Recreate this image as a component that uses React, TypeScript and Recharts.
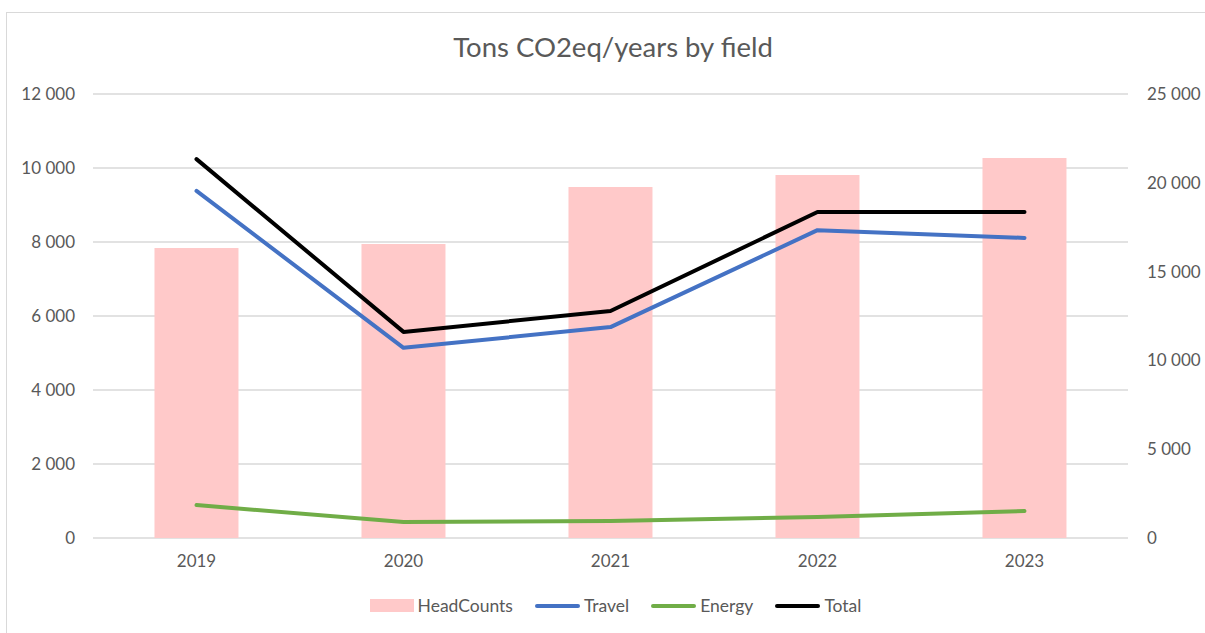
import React from 'react';
import { ComposedChart, Bar, Line, XAxis, YAxis, CartesianGrid, Legend } from 'recharts';

const years = ['2019', '2020', '2021', '2022', '2023'];
const headCounts = [16330, 16550, 19760, 20440, 21400];
const travel = [9380, 5140, 5700, 8320, 8110];
const energy = [890, 430, 460, 570, 730];
const total = [10240, 5570, 6135, 8810, 8810];
const leftTicks = [0, 2000, 4000, 6000, 8000, 10000, 12000];
const rightTicks = [0, 5000, 10000, 15000, 20000, 25000];
const legendOrder = ['HeadCounts', 'Travel', 'Energy', 'Total'];
const title = 'Tons CO2eq/years by field';

const data = years.map((y, i) => ({
  year: y,
  HeadCounts: headCounts[i],
  Travel: travel[i],
  Energy: energy[i],
  Total: total[i],
}));

const FONT = 'Lato, "Open Sans", sans-serif';
const TEXT = '#595959';

const fmt = (v: number) => {
  const s = String(v);
  return s.replace(/\B(?=(\d{3})+(?!\d))/g, ' ');
};

const renderLegend = (props: any) => {
  const payload = [...(props.payload || [])].sort(
    (a: any, b: any) => legendOrder.indexOf(a.value) - legendOrder.indexOf(b.value)
  );
  return (
    <div style={{ display: 'flex', justifyContent: 'center', alignItems: 'center', fontFamily: FONT, fontSize: 17.5, color: TEXT, paddingLeft: 26 }}>
      {payload.map((p: any, i: number) => (
        <div key={i} style={{ display: 'flex', alignItems: 'center', marginRight: i < payload.length - 1 ? 22 : 0 }}>
          {p.type === 'rect' ? (
            <div style={{ width: 44, height: 13, background: p.color, marginRight: 4 }} />
          ) : (
            <div style={{ width: 45, height: 4, borderRadius: 2, background: p.color, marginRight: 4 }} />
          )}
          <span>{p.value}</span>
        </div>
      ))}
    </div>
  );
};

export default function App() {
  return (
    <div style={{ position: 'absolute', left: 0, top: 0, width: 1205, height: 633, overflow: 'hidden', background: '#fff' }}>
      <div style={{ position: 'absolute', left: 6, top: 12, width: 1240, height: 680, border: '1px solid #d9d9d9' }} />
      <div style={{ position: 'absolute', left: 0, top: 30, width: 1226, textAlign: 'center', fontFamily: FONT, fontSize: 27.5, color: TEXT }}>
        {title}
      </div>
      <div style={{ position: 'absolute', left: 0, top: 0 }}>
        <ComposedChart width={1205} height={633} data={data} margin={{ top: 94, right: 0, bottom: 55, left: 0 }} barCategoryGap="29.7%">
          <CartesianGrid yAxisId="left" vertical={false} stroke="#d9d9d9" strokeWidth={1.3} />
          <XAxis dataKey="year" axisLine={false} tickLine={false} tickSize={0} tickMargin={17} height={40}
            tick={{ fill: TEXT, fontSize: 17, fontFamily: FONT }} />
          <YAxis yAxisId="left" orientation="left" width={93} domain={[0, 12000]} ticks={leftTicks} interval={0}
            axisLine={false} tickLine={false} tickSize={0} tickMargin={18} tickFormatter={fmt}
            tick={{ fill: TEXT, fontSize: 17, fontFamily: FONT }} />
          <YAxis yAxisId="right" orientation="right" width={77} domain={[0, 25000]} ticks={rightTicks} interval={0}
            axisLine={false} tickLine={false} tickSize={0} tickMargin={19} tickFormatter={fmt}
            tick={{ fill: TEXT, fontSize: 17, fontFamily: FONT, textAnchor: 'start' }} />
          <Bar yAxisId="right" dataKey="HeadCounts" fill="#ffc9c9" isAnimationActive={false} legendType="rect" />
          <Line yAxisId="left" dataKey="Travel" stroke="#4472c4" strokeWidth={4} dot={false} strokeLinecap="round" strokeLinejoin="round" isAnimationActive={false} />
          <Line yAxisId="left" dataKey="Energy" stroke="#70ad47" strokeWidth={4} dot={false} strokeLinecap="round" strokeLinejoin="round" isAnimationActive={false} />
          <Line yAxisId="left" dataKey="Total" stroke="#000000" strokeWidth={4} dot={false} strokeLinecap="round" strokeLinejoin="round" isAnimationActive={false} />
          <Legend layout="horizontal" verticalAlign="middle" align="center" content={renderLegend}
            wrapperStyle={{ position: 'absolute', left: 0, top: 595, width: 1205, height: 22 }} />
        </ComposedChart>
      </div>
    </div>
  );
}
